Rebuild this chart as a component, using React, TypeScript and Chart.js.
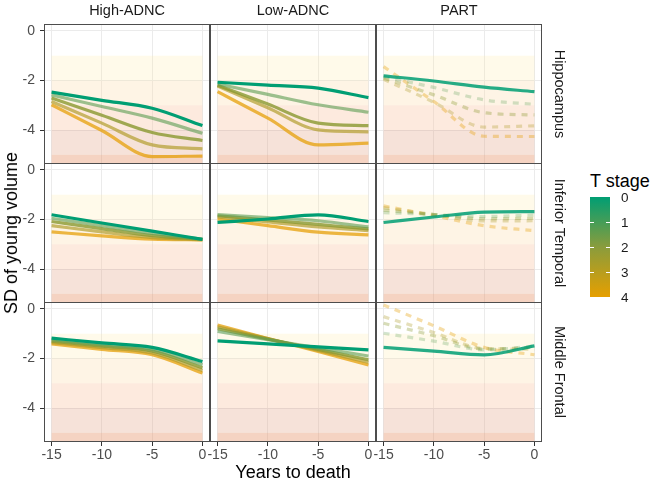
import React, { useEffect, useRef } from 'react';
import { Chart, registerables } from 'chart.js';

Chart.register(...registerables);

const FONT = '"Liberation Sans", Arial, Helvetica, sans-serif';
Chart.defaults.font.family = FONT;

// ---------- data ----------
const YEARS = [-15, -10, -5, 0];
const X_TICKS = [-15, -10, -5, 0];
const Y_TICKS = [0, -2, -4];
const GROUPS = ['High-ADNC', 'Low-ADNC', 'PART'];
const REGIONS = ['Hippocampus', 'Inferior Temporal', 'Middle Frontal'];
const STAGE_LABELS = ['0', '1', '2', '3', '4'];
const BAND_EDGES = [-1, -2, -3, -4, -5, -6];
const BAND_YEARS = [-15, 0];

// rows: T stage 0..4, columns: YEARS
const HIPPO_HIGH = [
  [-2.47, -2.8, -3.12, -3.82],
  [-2.58, -3.05, -3.52, -4.13],
  [-2.71, -3.4, -4.1, -4.42],
  [-2.85, -3.72, -4.6, -4.76],
  [-2.98, -4.02, -5.07, -5.05],
];
const HIPPO_LOW = [
  [-2.07, -2.19, -2.31, -2.69],
  [-2.14, -2.56, -2.98, -3.28],
  [-2.19, -2.95, -3.72, -3.82],
  [-2.22, -3.1, -3.99, -4.07],
  [-2.45, -3.52, -4.6, -4.53],
];
const HIPPO_PART = [
  [-1.81, -2.02, -2.27, -2.45],
  [-1.85, -2.28, -2.78, -2.96],
  [-1.9, -2.58, -3.3, -3.39],
  [-1.95, -2.88, -3.88, -3.83],
  [-1.44, -2.85, -4.25, -4.26],
];
const IT_HIGH = [
  [-1.81, -2.14, -2.47, -2.8],
  [-1.95, -2.25, -2.56, -2.8],
  [-2.08, -2.37, -2.65, -2.8],
  [-2.25, -2.5, -2.73, -2.81],
  [-2.5, -2.66, -2.79, -2.82],
];
const IT_LOW = [
  [-2.12, -1.98, -1.81, -2.08],
  [-1.8, -1.92, -2.05, -2.3],
  [-1.85, -2.02, -2.2, -2.38],
  [-1.9, -2.1, -2.3, -2.45],
  [-1.98, -2.25, -2.51, -2.62],
];
const IT_PART = [
  [-2.12, -1.9, -1.7, -1.68],
  [-1.72, -1.8, -1.88, -1.82],
  [-1.62, -1.8, -1.97, -1.95],
  [-1.52, -1.8, -2.06, -2.05],
  [-1.45, -1.85, -2.25, -2.45],
];
const MF_HIGH = [
  [-1.18, -1.37, -1.55, -2.12],
  [-1.24, -1.44, -1.63, -2.25],
  [-1.3, -1.5, -1.7, -2.37],
  [-1.36, -1.56, -1.78, -2.48],
  [-1.41, -1.63, -1.85, -2.59],
];
const MF_LOW = [
  [-1.29, -1.41, -1.53, -1.65],
  [-0.91, -1.24, -1.57, -1.9],
  [-0.8, -1.22, -1.63, -2.05],
  [-0.72, -1.2, -1.68, -2.15],
  [-0.65, -1.19, -1.72, -2.26],
];
const MF_PART = [
  [-1.55, -1.7, -1.85, -1.49],
  [-0.98, -1.3, -1.65, -1.5],
  [-0.58, -1.08, -1.62, -1.55],
  [-0.31, -0.95, -1.6, -1.62],
  [0.16, -0.68, -1.55, -1.85],
];

const PANEL_DATA = [
  [HIPPO_HIGH, HIPPO_LOW, HIPPO_PART],
  [IT_HIGH, IT_LOW, IT_PART],
  [MF_HIGH, MF_LOW, MF_PART],
];

// ---------- styles ----------
const STAGE_RGB = [
  [0, 158, 115],
  [95, 158, 85],
  [138, 152, 48],
  [175, 155, 40],
  [230, 160, 10],
];
const STAGE_ALPHA = [1, 0.62, 0.8, 0.68, 0.75];
const PART_ALPHA = [0.85, 0.28, 0.34, 0.32, 0.36];
const BAND_COLORS = [
  'rgba(255,230,150,0.2)',
  'rgba(252,220,170,0.3)',
  'rgba(248,195,160,0.35)',
  'rgba(225,160,130,0.3)',
  'rgba(230,150,110,0.42)',
];

const X_MIN = -15.75;
const X_MAX = 0.75;
const Y_MIN = -5.37;
const Y_MAX = 0.28;

const COL_X = [44, 210, 376];
const ROW_Y = [24, 163, 302];
const PANEL_W = 166;
const PANEL_H = 140;
const PAD = 14;
const X_AXIS_H = 30;
const TICK_SIZE = 14;

const rgba = (rgb: number[], a: number) => `rgba(${rgb[0]},${rgb[1]},${rgb[2]},${a})`;

const bandsPlugin = {
  id: 'bands',
  beforeDatasetsDraw(chart: any) {
    const { ctx, chartArea: a, scales } = chart;
    const x = scales.x;
    const y = scales.y;
    ctx.save();
    ctx.beginPath();
    ctx.rect(a.left, a.top, a.right - a.left, a.bottom - a.top);
    ctx.clip();
    const x1 = x.getPixelForValue(BAND_YEARS[0]);
    const x2 = x.getPixelForValue(BAND_YEARS[1]);
    for (let i = 0; i < BAND_EDGES.length - 1; i++) {
      const y1 = y.getPixelForValue(BAND_EDGES[i]);
      const y2 = y.getPixelForValue(BAND_EDGES[i + 1]);
      ctx.fillStyle = BAND_COLORS[i];
      ctx.fillRect(x1, y1, x2 - x1, y2 - y1);
    }
    ctx.restore();
  },
};

const framePlugin = {
  id: 'frame',
  afterDraw(chart: any) {
    const { ctx, chartArea: a } = chart;
    ctx.save();
    ctx.strokeStyle = '#4D4D4D';
    ctx.lineWidth = 1;
    ctx.strokeRect(a.left + 0.5, a.top + 0.5, a.right - a.left - 1, a.bottom - a.top - 1);
    ctx.restore();
  },
};

function Panel({ r, c }: { r: number; c: number }) {
  const ref = useRef<HTMLCanvasElement>(null);
  const isLeft = c === 0;
  const isBottom = r === 2;
  const leftExtra = isLeft ? COL_X[0] : PAD;
  const left = COL_X[c] - leftExtra;
  const top = ROW_Y[r] - PAD;
  const width = leftExtra + PANEL_W + PAD;
  const height = PAD + PANEL_H + (isBottom ? X_AXIS_H : PAD);

  useEffect(() => {
    const values = PANEL_DATA[r][c];
    const part = c === 2;
    const datasets = STAGE_LABELS.map((lab, s) => ({
      label: 'T' + lab,
      data: YEARS.map((yr, i) => ({ x: yr, y: values[s][i] })),
      borderColor: rgba(STAGE_RGB[s], part ? PART_ALPHA[s] : STAGE_ALPHA[s]),
      borderWidth: 3.2,
      borderDash: part && s > 0 ? [6, 6] : [],
      borderCapStyle: 'butt' as const,
      borderJoinStyle: 'round' as const,
      pointRadius: 0,
      cubicInterpolationMode: 'monotone' as const,
      fill: false,
    }));
    const chart = new Chart(ref.current as HTMLCanvasElement, {
      type: 'line',
      data: { datasets },
      options: {
        animation: false,
        responsive: false,
        maintainAspectRatio: false,
        devicePixelRatio: 1,
        layout: {
          padding: { left: isLeft ? 0 : PAD, right: PAD, top: PAD, bottom: isBottom ? 0 : PAD },
        },
        plugins: { legend: { display: false }, tooltip: { enabled: false } },
        scales: {
          x: {
            type: 'linear',
            min: X_MIN,
            max: X_MAX,
            afterBuildTicks: (s: any) => {
              s.ticks = X_TICKS.map((v) => ({ value: v }));
            },
            afterFit: (s: any) => {
              s.height = isBottom ? X_AXIS_H : 0;
            },
            grid: {
              color: '#EBEBEB',
              lineWidth: 1,
              drawTicks: isBottom,
              tickLength: 4,
              tickColor: '#333333',
            },
            border: { display: false },
            ticks: {
              display: isBottom,
              color: '#4D4D4D',
              font: { size: TICK_SIZE, family: FONT },
              padding: 1,
              maxRotation: 0,
              autoSkip: false,
              callback: (v: any) => String(v),
            },
          },
          y: {
            type: 'linear',
            min: Y_MIN,
            max: Y_MAX,
            afterBuildTicks: (s: any) => {
              s.ticks = Y_TICKS.map((v) => ({ value: v }));
            },
            afterFit: (s: any) => {
              s.width = isLeft ? COL_X[0] : 0;
            },
            grid: {
              color: '#EBEBEB',
              lineWidth: 1,
              drawTicks: isLeft,
              tickLength: 4,
              tickColor: '#333333',
            },
            border: { display: false },
            ticks: {
              display: isLeft,
              color: '#4D4D4D',
              font: { size: TICK_SIZE, family: FONT },
              padding: 5,
              autoSkip: false,
              callback: (v: any) => String(v),
            },
          },
        },
      },
      plugins: [bandsPlugin, framePlugin],
    } as any);
    return () => chart.destroy();
  }, []);

  return (
    <canvas
      ref={ref}
      width={width}
      height={height}
      style={{ position: 'absolute', left, top, width, height }}
    />
  );
}

function Label(props: {
  x: number;
  y: number;
  text: string;
  size: number;
  rotate?: number;
  color?: string;
  leftAnchor?: boolean;
}) {
  const { x, y, text, size, rotate = 0, color = '#1A1A1A', leftAnchor } = props;
  return (
    <div
      style={{
        position: 'absolute',
        left: x,
        top: y,
        transform: `translate(${leftAnchor ? '0' : '-50%'},-50%) rotate(${rotate}deg)`,
        fontFamily: FONT,
        fontSize: size,
        lineHeight: 1,
        whiteSpace: 'nowrap',
        color,
      }}
    >
      {text}
    </div>
  );
}

export default function App() {
  const panels: any[] = [];
  for (let r = 0; r < 3; r++) for (let c = 0; c < 3; c++) panels.push(<Panel key={`${r}-${c}`} r={r} c={c} />);
  const BAR_TOP = 197;
  const BAR_H = 100;
  return (
    <div
      style={{
        position: 'absolute',
        left: 0,
        top: 0,
        width: 655,
        height: 483,
        overflow: 'hidden',
        background: '#FFFFFF',
      }}
    >
      {panels}
      {GROUPS.map((g, c) => (
        <Label key={g} x={COL_X[c] + PANEL_W / 2} y={10} text={g} size={14.5} />
      ))}
      {REGIONS.map((g, r) => (
        <Label key={g} x={560} y={ROW_Y[r] + PANEL_H / 2} text={g} size={14.5} rotate={90} />
      ))}
      <Label x={11} y={233} text="SD of young volume" size={18} rotate={-90} color="#000" />
      <Label x={293} y={471.5} text="Years to death" size={18} color="#000" />
      <Label x={590} y={181} text="T stage" size={18} color="#000" leftAnchor />
      <div
        style={{
          position: 'absolute',
          left: 590,
          top: BAR_TOP,
          width: 20,
          height: BAR_H,
          background: `linear-gradient(to bottom, ${rgba(STAGE_RGB[0], 1)}, #8A9C3C 50%, #E69F00)`,
        }}
      />
      {STAGE_LABELS.map((lab, i) =>
        i > 0 && i < 4 ? (
          <React.Fragment key={'t' + lab}>
            <div style={{ position: 'absolute', left: 590, top: BAR_TOP + i * 25, width: 4, height: 1, background: '#FFFFFF' }} />
            <div style={{ position: 'absolute', left: 606, top: BAR_TOP + i * 25, width: 4, height: 1, background: '#FFFFFF' }} />
          </React.Fragment>
        ) : null
      )}
      {STAGE_LABELS.map((lab, i) => (
        <Label key={'l' + lab} x={621} y={198 + i * 25} text={lab} size={13.5} leftAnchor />
      ))}
    </div>
  );
}
